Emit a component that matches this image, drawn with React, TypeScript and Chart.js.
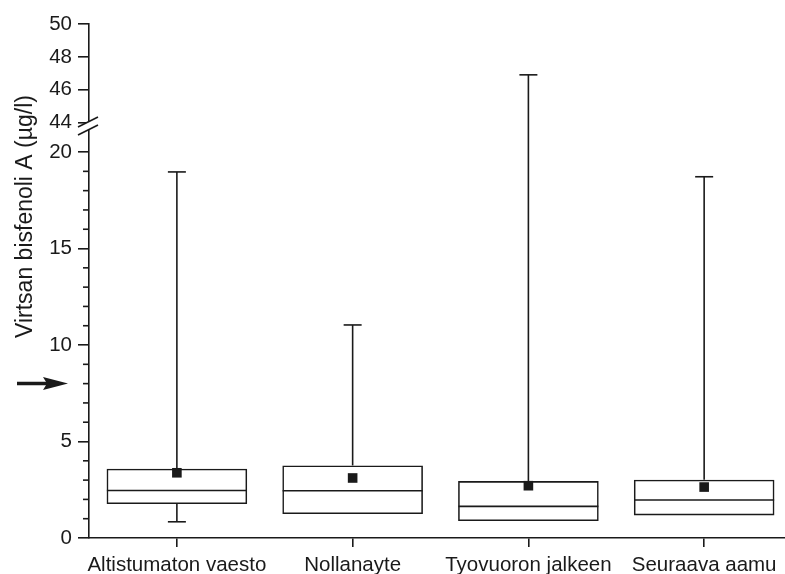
import { useEffect, useRef } from 'react';
import { Chart, registerables } from 'chart.js';

Chart.register(...registerables);

// ---- data ----
const categories = ['Altistumaton vaesto', 'Nollanayte', 'Tyovuoron jalkeen', 'Seuraava aamu'];
const q1 = [1.76, 1.24, 0.88, 1.17];
const medians = [2.46, 2.45, 1.64, 1.97];
const q3 = [3.59, 3.76, 2.95, 3.02];
const means = [3.38, 3.11, 2.71, 2.64];
const mins = [0.84, 1.24, 0.88, 1.17];
const maxs = [18.97, 11.04, 46.91, 18.72];
const lowerTicks = [0, 5, 10, 15, 20];
const lowerMinorTicks = [1, 2, 3, 4, 6, 7, 8, 9, 11, 12, 13, 14, 16, 17, 18, 19];
const upperTicks = [44, 46, 48, 50];
const referenceLevel = 8;
const yTitle = 'Virtsan bisfenoli A (µg/l)';

const LOWER_MIN = 0;
const LOWER_MAX = 21.35;
const UPPER_MIN = 43.8;
const UPPER_MAX = 50;

const FONT = '"Liberation Sans", Arial, Helvetica, sans-serif';
const INK = '#1a1a1a';
const LW = 1.6;

export default function App() {
  const ref = useRef<HTMLCanvasElement>(null);

  useEffect(() => {
    const canvas = ref.current;
    if (!canvas) return;

    const pickY = (chart: any, v: number) =>
      v > LOWER_MAX ? chart.scales.y2.getPixelForValue(v) : chart.scales.y.getPixelForValue(v);

    const extras = {
      id: 'boxExtras',
      afterDatasetsDraw(chart: any) {
        const { ctx, scales } = chart;
        ctx.save();
        ctx.strokeStyle = INK;
        ctx.lineWidth = LW;
        categories.forEach((_, i) => {
          const px = scales.x.getPixelForValue(i + 1);
          ctx.beginPath();
          ctx.moveTo(px, pickY(chart, q3[i]));
          ctx.lineTo(px, pickY(chart, maxs[i]));
          ctx.stroke();
          if (mins[i] < q1[i]) {
            ctx.beginPath();
            ctx.moveTo(px, pickY(chart, q1[i]));
            ctx.lineTo(px, pickY(chart, mins[i]));
            ctx.stroke();
          }
        });
        ctx.restore();
      },
      afterDraw(chart: any) {
        const { ctx, scales } = chart;
        const L = scales.y.right;
        ctx.save();
        ctx.strokeStyle = INK;
        ctx.lineWidth = LW;
        // minor ticks
        lowerMinorTicks.forEach((v) => {
          const py = scales.y.getPixelForValue(v);
          ctx.beginPath();
          ctx.moveTo(L - 6, py);
          ctx.lineTo(L, py);
          ctx.stroke();
        });
        // axis break
        const yb = scales.y.top;
        ctx.fillStyle = '#ffffff';
        ctx.beginPath();
        ctx.moveTo(L - 11, yb + 1);
        ctx.lineTo(L + 9, yb - 9);
        ctx.lineTo(L + 9, yb - 1);
        ctx.lineTo(L - 11, yb + 9);
        ctx.closePath();
        ctx.fill();
        ctx.beginPath();
        ctx.moveTo(L - 11, yb + 1);
        ctx.lineTo(L + 9, yb - 9);
        ctx.moveTo(L - 11, yb + 9);
        ctx.lineTo(L + 9, yb - 1);
        ctx.stroke();
        // arrow
        const ay = scales.y.getPixelForValue(referenceLevel);
        ctx.fillStyle = INK;
        ctx.lineWidth = 3.5;
        ctx.beginPath();
        ctx.moveTo(L - 72, ay);
        ctx.lineTo(L - 38, ay);
        ctx.stroke();
        ctx.beginPath();
        ctx.moveTo(L - 21, ay);
        ctx.lineTo(L - 46, ay - 6.5);
        ctx.lineTo(L - 42, ay);
        ctx.lineTo(L - 46, ay + 6.5);
        ctx.closePath();
        ctx.fill();
        // y title
        ctx.translate(32, 216.5);
        ctx.rotate(-Math.PI / 2);
        ctx.font = `23px ${FONT}`;
        ctx.textAlign = 'center';
        ctx.textBaseline = 'alphabetic';
        ctx.fillText(yTitle, 0, 0);
        ctx.restore();
      },
    };

    const lowCaps: { x: number; y: number }[] = [];
    const highCaps: { x: number; y: number }[] = [];
    categories.forEach((_, i) => {
      (maxs[i] > LOWER_MAX ? highCaps : lowCaps).push({ x: i + 1, y: maxs[i] });
      if (mins[i] < q1[i]) lowCaps.push({ x: i + 1, y: mins[i] });
    });

    const tickFont = { family: FONT, size: 20.5 };

    const chart = new Chart(canvas, {
      type: 'bar',
      data: {
        datasets: [
          {
            type: 'bar',
            data: categories.map((_, i) => ({ x: i + 1, y: [q1[i], q3[i]] })) as any,
            backgroundColor: 'rgba(0,0,0,0)',
            borderColor: INK,
            borderWidth: LW,
            borderSkipped: false,
            barPercentage: 0.8,
            categoryPercentage: 1,
            yAxisID: 'y',
          } as any,
          {
            type: 'scatter',
            data: categories.map((_, i) => ({ x: i + 1, y: medians[i] })),
            pointStyle: 'line',
            pointRadius: 70,
            pointBorderWidth: LW,
            pointBorderColor: INK,
            yAxisID: 'y',
          } as any,
          {
            type: 'scatter',
            data: lowCaps,
            pointStyle: 'line',
            pointRadius: 9,
            pointBorderWidth: LW,
            pointBorderColor: INK,
            yAxisID: 'y',
          } as any,
          {
            type: 'scatter',
            data: highCaps,
            pointStyle: 'line',
            pointRadius: 9,
            pointBorderWidth: LW,
            pointBorderColor: INK,
            yAxisID: 'y2',
          } as any,
          {
            type: 'scatter',
            data: categories.map((_, i) => ({ x: i + 1, y: means[i] })),
            pointStyle: 'rect',
            pointRadius: 6.8,
            pointBackgroundColor: INK,
            pointBorderWidth: 0,
            yAxisID: 'y',
          } as any,
        ],
      },
      options: {
        responsive: false,
        animation: false,
        events: [],
        layout: { autoPadding: false, padding: { top: 24, right: 0, bottom: 0, left: 0 } },
        plugins: { legend: { display: false }, tooltip: { enabled: false }, title: { display: false } },
        scales: {
          x: {
            type: 'linear',
            offset: false,
            min: 0.5,
            max: 4.46,
            afterBuildTicks: (s: any) => {
              s.ticks = categories.map((_, i) => ({ value: i + 1 }));
            },
            ticks: {
              callback: (v: any) => categories[Math.round(Number(v)) - 1] ?? '',
              font: tickFont,
              color: INK,
              padding: 6,
              maxRotation: 0,
              autoSkip: false,
            },
            grid: { offset: false, drawOnChartArea: false, tickLength: 9, color: INK, lineWidth: LW },
            border: { color: INK, width: LW },
            afterFit: (s: any) => {
              s.height = 36;
            },
          },
          y: {
            type: 'linear',
            position: 'left',
            stack: 'v',
            stackWeight: 412,
            min: LOWER_MIN,
            max: LOWER_MAX,
            afterBuildTicks: (s: any) => {
              s.ticks = lowerTicks.map((value) => ({ value }));
            },
            ticks: { font: tickFont, color: INK, padding: 6, autoSkip: false },
            grid: { drawOnChartArea: false, tickLength: 11, color: INK, lineWidth: LW },
            border: { color: INK, width: LW },
            afterFit: (s: any) => {
              s.width = 89;
            },
          },
          y2: {
            type: 'linear',
            position: 'left',
            stack: 'v',
            stackWeight: 102,
            min: UPPER_MIN,
            max: UPPER_MAX,
            afterBuildTicks: (s: any) => {
              s.ticks = upperTicks.map((value) => ({ value }));
            },
            ticks: { font: tickFont, color: INK, padding: 6, autoSkip: false },
            grid: { drawOnChartArea: false, tickLength: 11, color: INK, lineWidth: LW },
            border: { color: INK, width: LW },
            afterFit: (s: any) => {
              s.width = 89;
            },
          },
        } as any,
      },
      plugins: [extras],
    });

    return () => chart.destroy();
  }, []);

  return (
    <div style={{ position: 'absolute', left: 0, top: 0, width: 785, height: 574, background: '#ffffff' }}>
      <canvas ref={ref} width={785} height={574} style={{ display: 'block' }} />
    </div>
  );
}
